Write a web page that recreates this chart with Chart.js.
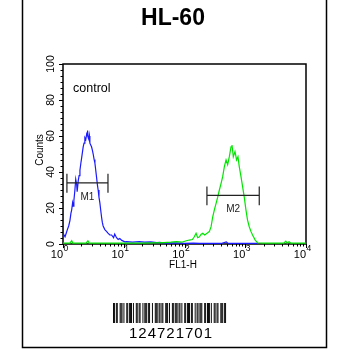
<!DOCTYPE html>
<html>
<head>
<meta charset="utf-8">
<script src="https://cdn.jsdelivr.net/npm/chart.js@4"></script>
<style>
  html, body { margin: 0; padding: 0; background: #fff; }
  #wrap { width: 350px; height: 350px; position: relative; }
</style>
</head>
<body>
<div id="wrap"><canvas id="chart" width="350" height="350"></canvas></div>
<script>
// Titulo e rotulos
const chartTitle = 'HL-60';
const xAxisTitle = 'FL1-H';
const yAxisTitle = 'Counts';
const sampleLabel = 'control';
const barcodeText = '124721701';

// Eixos
const xDecades = [1, 10, 100, 1000, 10000];
const xDecadeExp = ['0', '1', '2', '3', '4'];
const yTicks = [0, 20, 40, 60, 80, 100];

// Histograma de controle (azul)
const controlX = [1.0, 1.01, 1.04, 1.08, 1.13, 1.18, 1.24, 1.30, 1.35, 1.39, 1.44, 1.48, 1.51, 1.57, 1.62, 1.68, 1.71, 1.78, 1.84, 1.90,
  1.97, 2.03, 2.09, 2.15, 2.22, 2.29, 2.37, 2.45, 2.50, 2.54, 2.60, 2.67, 2.72, 2.77, 2.86, 2.95, 3.05, 3.14, 3.25, 3.35,
  3.46, 3.57, 3.68, 3.79, 3.91, 4.04, 4.17, 4.31, 4.44, 4.58, 4.88, 5.20, 5.5, 5.89, 6.3, 6.8, 7.1, 7.6, 8.1, 8.6,
  9.3, 10.4, 11.2, 14, 18, 22, 28, 35, 39, 50, 70, 100, 140, 176, 250, 400, 488, 520, 800, 1200, 1600];
const controlY = [88, 6, 5, 4, 6, 8, 10, 13, 17, 19, 23, 21, 24, 30, 36, 33, 29, 35, 38, 41,
  45, 48, 51, 54, 56, 59, 58, 61, 60, 63, 59, 58, 60, 56, 55, 54, 52, 50, 47, 45,
  41, 37, 33, 30, 26, 23, 19, 15, 12, 10, 8, 7, 6, 5, 5, 3.5, 5.5, 3.5, 2.5, 3,
  2, 1.2, 1.3, 1.0, 1.3, 1.0, 1.2, 0.8, 0.9, 0.5, 0.6, 0.4, 0.5, 0.3, 0.3, 0.3, 1.2, 0.3, 0.3, 0.3, 0.3];

// Histograma da amostra (verde)
const sampleX = [1.0, 1.3, 1.39, 1.45, 2.4, 2.57, 2.7, 5, 10, 20, 30, 45, 60, 74, 90, 107, 120, 135, 145, 155,
  165, 176, 188, 200, 215, 235, 257, 274, 291, 310, 331, 352, 375, 400, 425, 453, 483, 513, 547, 583,
  605, 636, 678, 720, 759, 797, 851, 904, 963, 1026, 1091, 1164, 1240, 1319, 1459, 1592, 2000, 3000, 4300, 4650,
  4900, 5260, 5600, 10000];
const sampleY = [0.5, 0.5, 1.8, 0.5, 0.5, 1.8, 0.5, 0.5, 0.5, 0.5, 0.6, 0.8, 1.0, 1.3, 1.0, 1.8, 2.2, 2.5, 4, 6,
  3.5, 4, 5.5, 6, 5, 6, 7, 9.6, 15, 19, 22.6, 26, 30, 33.7, 37.4, 43, 46.7, 44, 48.5, 54,
  55, 48.5, 51.3, 46.7, 48.5, 43, 37.4, 31.9, 26, 19, 13.3, 9.6, 7, 5, 2.2, 0.7, 0.5, 0.5, 0.5, 1.6,
  0.5, 1.2, 0.5, 0.5];

// Marcadores M1 / M2
const markerNames = ['M1', 'M2'];
const markerStart = [1.16, 234];
const markerEnd = [5.5, 1700];
const markerLevel = [34, 27];

// Padrao do codigo de barras (1 = barra, 0 = espaco)
const barcodePattern = '110110011101001101110100110110010111011001001110110110011101001101110110100110111011001011011100110111010011011001110110';

const toPoints = (xs, ys) => xs.map((x, i) => ({ x: x, y: ys[i] }));

const decorPlugin = {
  id: 'decor',
  beforeDatasetsDraw(chart) {
    // caixa do grafico (atras das curvas)
    const ctx = chart.ctx;
    const area = chart.chartArea;
    ctx.save();
    ctx.strokeStyle = '#000';
    ctx.lineWidth = 1.5;
    ctx.strokeRect(area.left, area.top, area.right - area.left, area.bottom - area.top);
    ctx.restore();
  },
  afterDraw(chart) {
    const ctx = chart.ctx;
    const area = chart.chartArea;
    const xs = chart.scales.x;
    const ys = chart.scales.y;
    ctx.save();
    ctx.fillStyle = '#000';
    ctx.strokeStyle = '#000';

    // moldura externa
    ctx.lineWidth = 1.5;
    ctx.beginPath();
    ctx.moveTo(22.5, 0);
    ctx.lineTo(22.5, 347.5);
    ctx.lineTo(326.5, 347.5);
    ctx.lineTo(326.5, 0);
    ctx.stroke();

    // titulo
    ctx.font = 'bold 23px "Liberation Sans", Arial, sans-serif';
    ctx.textAlign = 'center';
    ctx.textBaseline = 'alphabetic';
    ctx.fillText(chartTitle, 173, 25);

    // ticks do eixo x (log)
    ctx.lineWidth = 1;
    for (let d = 0; d < xDecades.length; d++) {
      const base = xDecades[d];
      const px = Math.round(xs.getPixelForValue(base)) + 0.5;
      ctx.beginPath();
      ctx.moveTo(px, area.bottom);
      ctx.lineTo(px, area.bottom + 4);
      ctx.stroke();
      if (d < xDecades.length - 1) {
        for (let m = 2; m <= 9; m++) {
          const mx = Math.round(xs.getPixelForValue(base * m)) + 0.5;
          ctx.beginPath();
          ctx.moveTo(mx, area.bottom);
          ctx.lineTo(mx, area.bottom + 2.5);
          ctx.stroke();
        }
      }
      // rotulo 10^n
      const cx = xs.getPixelForValue(base);
      ctx.font = '11px "Liberation Sans", Arial, sans-serif';
      ctx.textAlign = 'right';
      ctx.fillText('10', cx, area.bottom + 14);
      ctx.font = '8.5px "Liberation Sans", Arial, sans-serif';
      ctx.textAlign = 'left';
      ctx.fillText(xDecadeExp[d], cx + 0.5, area.bottom + 7);
    }

    // ticks do eixo y
    const minorStep = 20 / 6;
    for (let v = 0; v <= 100.01; v += minorStep) {
      const py = Math.round(ys.getPixelForValue(v)) + 0.5;
      ctx.beginPath();
      ctx.moveTo(area.left, py);
      ctx.lineTo(area.left - 2.5, py);
      ctx.stroke();
    }
    ctx.font = '10.5px "Liberation Sans", Arial, sans-serif';
    ctx.textAlign = 'center';
    ctx.textBaseline = 'middle';
    yTicks.forEach(v => {
      const py = Math.round(ys.getPixelForValue(v)) + 0.5;
      ctx.beginPath();
      ctx.moveTo(area.left, py);
      ctx.lineTo(area.left - 4, py);
      ctx.stroke();
      ctx.save();
      ctx.translate(51, ys.getPixelForValue(v));
      ctx.rotate(-Math.PI / 2);
      ctx.fillText(String(v), 0, 0);
      ctx.restore();
    });

    // titulos dos eixos
    ctx.font = '10px "Liberation Sans", Arial, sans-serif';
    ctx.save();
    ctx.translate(40, 150);
    ctx.rotate(-Math.PI / 2);
    ctx.fillText(yAxisTitle, 0, 0);
    ctx.restore();
    ctx.textBaseline = 'alphabetic';
    ctx.fillText(xAxisTitle, 183, 268);

    // texto "control"
    ctx.font = '12.5px "Liberation Sans", Arial, sans-serif';
    ctx.textAlign = 'left';
    ctx.fillText(sampleLabel, 73, 92);

    // marcadores
    ctx.lineWidth = 1.2;
    ctx.strokeStyle = '#222';
    markerNames.forEach((name, i) => {
      const x1 = xs.getPixelForValue(markerStart[i]);
      const x2 = xs.getPixelForValue(markerEnd[i]);
      const py = ys.getPixelForValue(markerLevel[i]);
      const capTop = ys.getPixelForValue(markerLevel[i] + 5);
      const capBot = ys.getPixelForValue(markerLevel[i] - 5.5);
      ctx.beginPath();
      ctx.moveTo(x1, py); ctx.lineTo(x2, py);
      ctx.moveTo(x1, capTop); ctx.lineTo(x1, capBot);
      ctx.moveTo(x2, capTop); ctx.lineTo(x2, capBot);
      ctx.stroke();
      ctx.font = '10px "Liberation Sans", Arial, sans-serif';
      ctx.textAlign = 'center';
      ctx.textBaseline = 'middle';
      ctx.fillStyle = '#222';
      ctx.fillText(name, (x1 + x2) / 2, py + 14);
    });

    // codigo de barras
    ctx.fillStyle = '#000';
    const bcLeft = 113, bcWidth = 114, bcTop = 303, bcHeight = 20;
    const mod = bcWidth / barcodePattern.length;
    for (let i = 0; i < barcodePattern.length; i++) {
      if (barcodePattern[i] === '1') {
        ctx.fillRect(bcLeft + i * mod, bcTop, mod, bcHeight);
      }
    }
    ctx.font = '15px "Liberation Sans", Arial, sans-serif';
    ctx.textAlign = 'center';
    ctx.textBaseline = 'alphabetic';
    if ('letterSpacing' in ctx) ctx.letterSpacing = '1px';
    ctx.fillText(barcodeText, 171, 338);
    ctx.restore();
  }
};

new Chart(document.getElementById('chart'), {
  type: 'line',
  data: {
    datasets: [
      {
        label: 'sample',
        data: toPoints(sampleX, sampleY),
        borderColor: '#00e600',
        borderWidth: 1.2,
        pointRadius: 0,
        tension: 0
      },
      {
        label: 'control',
        data: toPoints(controlX, controlY),
        borderColor: '#1a1aff',
        borderWidth: 1.2,
        pointRadius: 0,
        tension: 0
      }
    ]
  },
  options: {
    responsive: false,
    animation: false,
    layout: { padding: { left: 63, right: 44, top: 64, bottom: 106 } },
    plugins: { legend: { display: false }, tooltip: { enabled: false } },
    scales: {
      x: { type: 'logarithmic', min: 1, max: 10000, display: false },
      y: { type: 'linear', min: 0, max: 100, display: false }
    }
  },
  plugins: [decorPlugin]
});
</script>
</body>
</html>
